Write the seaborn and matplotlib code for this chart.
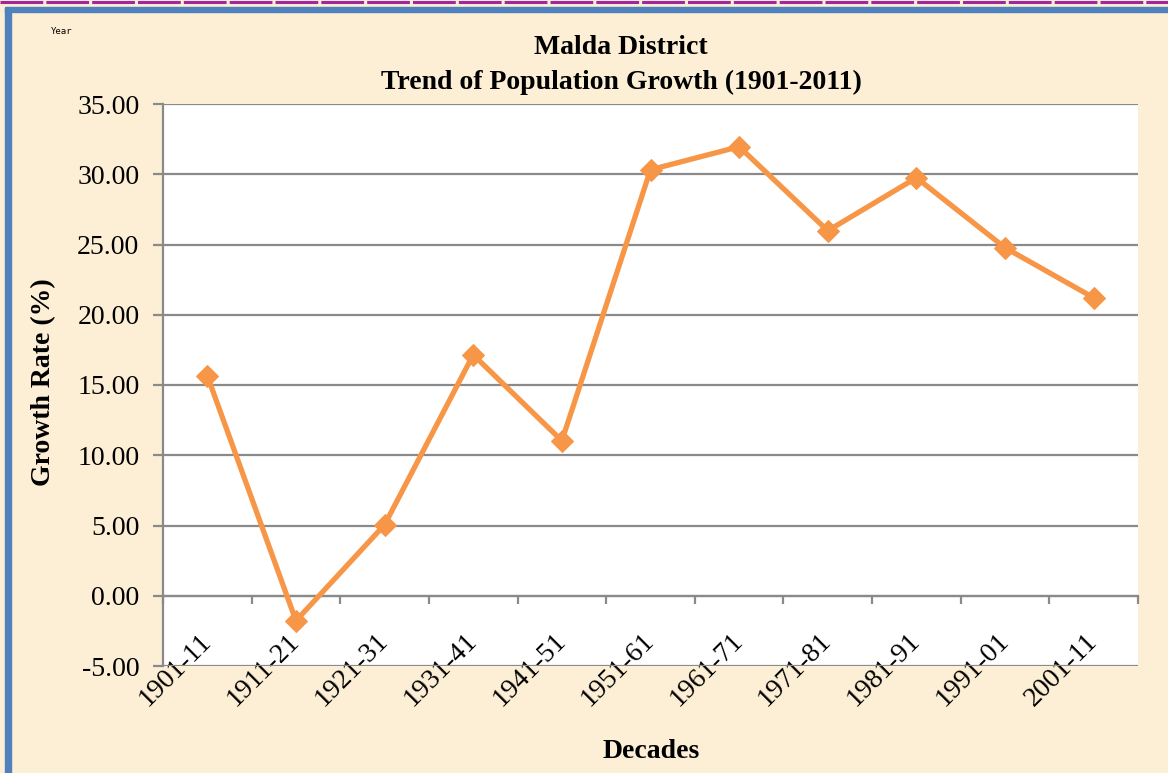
import matplotlib
matplotlib.use("Agg")
import matplotlib.pyplot as plt
import seaborn as sns
import pandas as pd
from matplotlib.patches import Rectangle
from matplotlib.lines import Line2D

decades = ["1901-11", "1911-21", "1921-31", "1931-41", "1941-51", "1951-61",
           "1961-71", "1971-81", "1981-91", "1991-01", "2001-11"]
growth_rate = [15.66, -1.78, 5.05, 17.15, 11.03, 30.32, 31.96, 25.98, 29.75, 24.77, 21.21]
y_ticks = [-5, 0, 5, 10, 15, 20, 25, 30, 35]

df = pd.DataFrame({"Decade": decades, "Growth": growth_rate})

sns.set_theme(style="white")
plt.rcParams["font.family"] = ["Liberation Serif", "DejaVu Serif"]
plt.rcParams["text.color"] = "black"
plt.rcParams["xtick.labelcolor"] = "black"
plt.rcParams["ytick.labelcolor"] = "black"

bg = "#fcefd6"
orange = "#f79646"
grid_c = "#8a8a8a"

fig = plt.figure(figsize=(11.68, 7.73), dpi=100, facecolor=bg)
ax = fig.add_axes([163 / 1168, 1 - 666 / 773, (1138 - 163) / 1168, (666 - 104) / 773])
ax.set_facecolor("white")

sns.lineplot(data=df, x="Decade", y="Growth", ax=ax, color=orange, linewidth=3.8,
             marker="D", markersize=11, markeredgecolor=orange, sort=False, zorder=5)

n = len(decades)
ax.set_xlim(-0.5, n - 0.5)
ax.set_ylim(-5, 35)
ax.set_yticks(y_ticks)
ax.set_yticklabels([f"{v:.2f}" for v in y_ticks], fontsize=20)
ax.yaxis.grid(True, color=grid_c, linewidth=1.6)
ax.set_axisbelow(True)

# category axis crosses at zero, tick marks between categories
ax.spines["bottom"].set_position(("data", 0))
ax.spines["bottom"].set_color(grid_c)
ax.spines["bottom"].set_linewidth(1.6)
ax.spines["left"].set_color(grid_c)
ax.spines["left"].set_linewidth(1.6)
ax.spines["top"].set_visible(False)
ax.spines["right"].set_visible(False)

ax.set_xticks([i - 0.5 for i in range(n + 1)])
ax.set_xticklabels([""] * (n + 1))
ax.set_xticks(range(n), minor=True)
ax.set_xticklabels(decades, minor=True, fontsize=20, rotation=45,
                   ha="right", va="center", rotation_mode="anchor")
ax.tick_params(axis="x", which="major", direction="out", length=6, width=1.6,
               color=grid_c, bottom=True)
ax.tick_params(axis="x", which="minor", length=0, pad=30, bottom=True)
ax.tick_params(axis="y", direction="out", length=7, width=1.6, color=grid_c,
               left=True, pad=10)
ax.set_xlabel("")
ax.set_ylabel("")

fig.text(621 / 1168, 1 - 48 / 773, "Malda District", ha="center", va="center",
         fontsize=20, fontweight="bold")
fig.text(621 / 1168, 1 - 82 / 773, "Trend of Population Growth (1901-2011)",
         ha="center", va="center", fontsize=20, fontweight="bold")
fig.text(44 / 1168, 1 - 382 / 773, "Growth Rate (%)", ha="center", va="center",
         rotation=90, fontsize=20, fontweight="bold")
fig.text(651 / 1168, 1 - 752 / 773, "Decades", ha="center", va="center",
         fontsize=20, fontweight="bold")
fig.text(62 / 1168, 1 - 31 / 773, "Year", ha="center", va="center",
         fontsize=6.5, family="DejaVu Sans Mono")

# slide frame
W, H = 1168, 773
fig.patches.append(Rectangle((5 / W, 0), 6 / W, (H - 8) / H, transform=fig.transFigure,
                             color="#4f81bd", zorder=10))
fig.patches.append(Rectangle((5 / W, 1 - 12 / H), 1, 5 / H, transform=fig.transFigure,
                             color="#4f81bd", zorder=10))
fig.lines.append(Line2D([0, 1], [1 - 1.5 / H, 1 - 1.5 / H], transform=fig.transFigure,
                        color="#a2279e", linewidth=2.2, dashes=(14, 1), zorder=10))

fig.savefig("out.png", dpi=100, facecolor=bg)
